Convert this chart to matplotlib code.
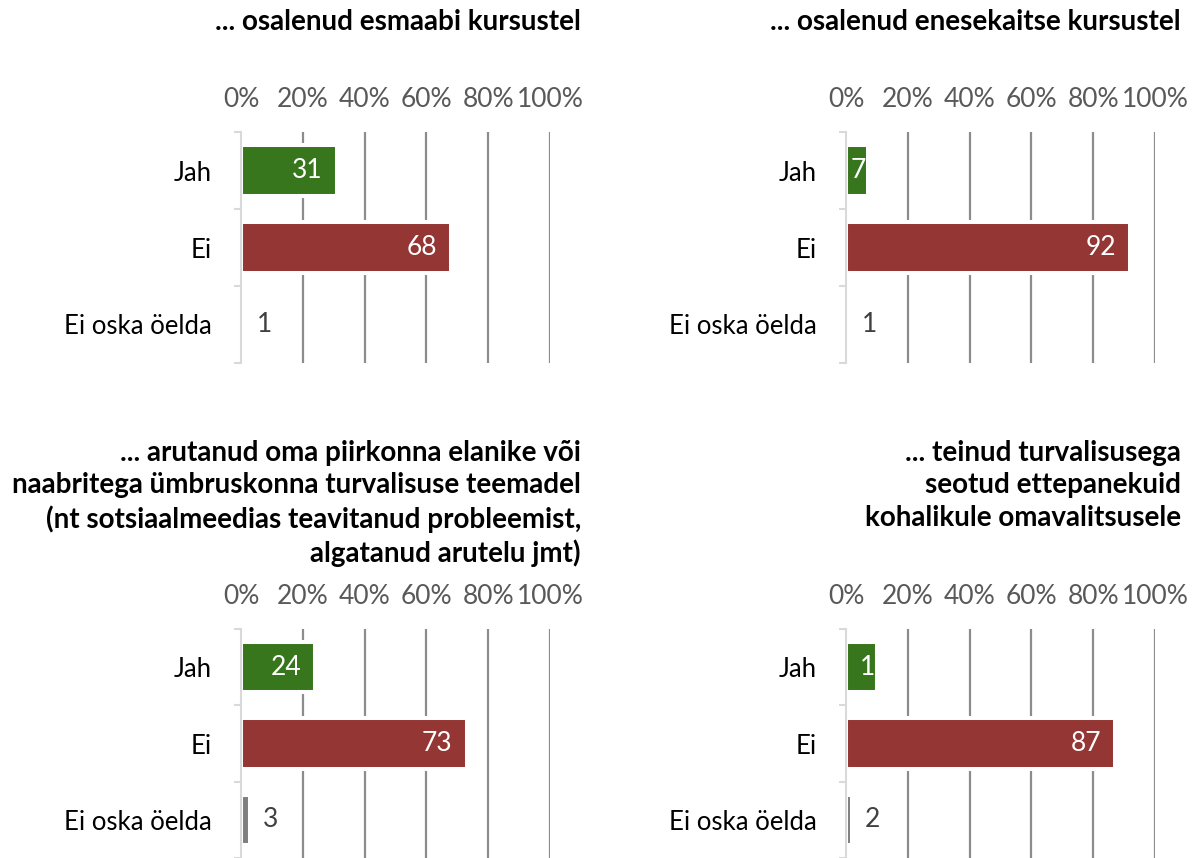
import matplotlib.pyplot as plt

# Vastused (%), järjekord: Jah, Ei, Ei oska öelda
kategooriad = ["Jah", "Ei", "Ei oska öelda"]

pealkirjad = [
    "... osalenud esmaabi kursustel",
    "... osalenud enesekaitse kursustel",
    "... arutanud oma piirkonna elanike või\nnaabritega ümbruskonna turvalisuse teemadel\n(nt sotsiaalmeedias teavitanud probleemist,\nalgatanud arutelu jmt)",
    "... teinud turvalisusega\nseotud ettepanekuid\nkohalikule omavalitsusele",
]

esmaabi = [31, 68, 1]
enesekaitse = [7, 92, 1]
arutanud = [24, 73, 3]
ettepanekud = [10, 87, 2]
vaartused = [esmaabi, enesekaitse, arutanud, ettepanekud]

# sildid nagu pildil (viimase paneeli "Jah" silt on pildil lõigatud)
sildid = [["31", "68", "1"], ["7", "92", "1"], ["24", "73", "3"], ["1", "87", "2"]]

xticks = [0, 20, 40, 60, 80, 100]
varvid = ["#38761d", "#943634", "#7f7f7f"]

plt.rcParams['font.family'] = ['Lato', 'DejaVu Sans']

W, H = 1195, 858
fig = plt.figure(figsize=(W / 100, H / 100), dpi=100)

# telgede asukohad pikslites: (vasak, ülemine, parem, alumine)
kastid = [(241, 132, 550, 363), (846, 132, 1155, 363),
          (241, 629, 550, 858), (846, 629, 1155, 858)]
pealkirja_x = [581, 1181, 581, 1181]
pealkirja_y = [22, 22, 440, 440]

fs = 19
fs_kat = 18.5
fs_pk = 20

for k in range(4):
    l, t, r, b = kastid[k]
    ax = fig.add_axes([l / W, 1 - b / H, (r - l) / W, (b - t) / H])
    y = list(range(len(kategooriad)))
    ax.vlines(xticks[1:], -0.5, 2.5, color="#8c8c8c", lw=1.6, zorder=1)
    ax.barh(y, vaartused[k], height=0.66, color=varvid,
            edgecolor="white", linewidth=2.9, zorder=2)
    ax.set_xlim(0, 100)
    ax.set_ylim(2.5, -0.5)

    for i, v in enumerate(vaartused[k]):
        if i == 2:
            ax.annotate(sildid[k][i], (v, i), xytext=(9, 0), textcoords="offset points",
                        ha="left", va="center", fontsize=fs, color="#404040")
        else:
            pad = -10 if v >= 15 else -1.5
            ax.annotate(sildid[k][i], (v, i), xytext=(pad, 0), textcoords="offset points",
                        ha="right", va="center", fontsize=fs, color="white", zorder=3)

    ax.xaxis.tick_top()
    ax.set_xticks(xticks)
    ax.set_xticklabels([f"{x}%" for x in xticks])
    ax.tick_params(axis="x", length=0, pad=14.5, labelsize=fs, labelcolor="#595959")
    ax.set_yticks(y)
    ax.set_yticklabels(kategooriad)
    ax.set_yticks([-0.5, 0.5, 1.5, 2.5], minor=True)
    ax.tick_params(axis="y", which="major", length=0, pad=21, labelsize=fs_kat, labelcolor="black")
    ax.tick_params(axis="y", which="minor", length=5, width=1.5, color="#d9d9d9", direction="out")
    for s in ["top", "right", "bottom"]:
        ax.spines[s].set_visible(False)
    ax.spines["left"].set_color("#d9d9d9")
    ax.spines["left"].set_linewidth(1.5)

    if k < 2:
        fig.text(pealkirja_x[k] / W, 1 - pealkirja_y[k] / H, pealkirjad[k], ha="right",
                 va="center", fontsize=fs_pk, fontweight="bold", color="black")
    else:
        fig.text(pealkirja_x[k] / W, 1 - pealkirja_y[k] / H, pealkirjad[k], ha="right",
                 va="top", fontsize=fs_pk, fontweight="bold", color="black", linespacing=1.3)

fig.savefig("out.png", dpi=100, facecolor="white")
